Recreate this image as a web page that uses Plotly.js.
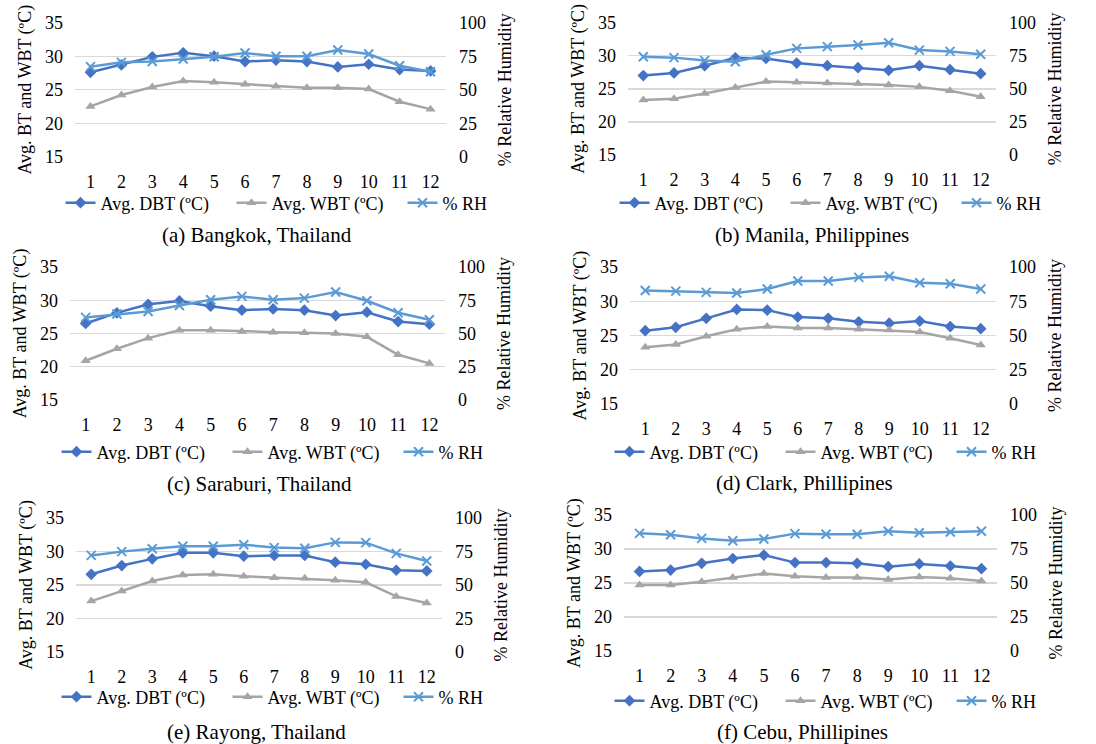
<!DOCTYPE html>
<html>
<head>
<meta charset="utf-8">
<script src="https://cdn.plot.ly/plotly-3.0.1.min.js"></script>
<style>html,body{margin:0;padding:0;background:#fff;}#chart{width:1096px;height:744px;}</style>
</head>
<body>
<div id="chart"></div>
<script>
// ---- Data ----
const months = [1, 2, 3, 4, 5, 6, 7, 8, 9, 10, 11, 12];
const seriesNames = ["Avg. DBT (ºC)", "Avg. WBT (ºC)", "% RH"];
const captions = ["(a) Bangkok, Thailand", "(b) Manila, Philippines", "(c) Saraburi, Thailand",
                  "(d) Clark, Phillipines", "(e) Rayong, Thailand", "(f) Cebu, Phillipines"];

const bangkokDBT = [27.6, 28.7, 29.9, 30.5, 30.0, 29.2, 29.4, 29.2, 28.4, 28.8, 28.0, 27.8];
const bangkokWBT = [22.5, 24.2, 25.4, 26.3, 26.1, 25.8, 25.5, 25.3, 25.3, 25.1, 23.2, 22.1];
const bangkokRH  = [67.2, 70.4, 71.1, 72.9, 74.6, 77.4, 74.9, 74.9, 79.6, 76.6, 67.9, 63.4];

const manilaDBT = [27.0, 27.4, 28.5, 29.7, 29.6, 28.9, 28.5, 28.2, 27.8, 28.5, 27.9, 27.3];
const manilaWBT = [23.3, 23.5, 24.3, 25.2, 26.1, 26.0, 25.9, 25.8, 25.6, 25.3, 24.7, 23.8];
const manilaRH  = [74.3, 73.6, 71.5, 70.5, 75.8, 80.6, 81.9, 83.1, 84.9, 79.3, 78.3, 76.1];

const saraburiDBT = [26.5, 28.1, 29.4, 29.9, 29.1, 28.5, 28.7, 28.5, 27.7, 28.2, 26.8, 26.4];
const saraburiWBT = [20.9, 22.7, 24.3, 25.5, 25.5, 25.3, 25.2, 25.1, 25.0, 24.5, 21.8, 20.5];
const saraburiRH  = [62.1, 64.6, 66.6, 71.1, 75.4, 77.9, 75.4, 76.6, 81.2, 74.6, 65.6, 60.3];

const clarkDBT = [25.7, 26.2, 27.5, 28.8, 28.7, 27.7, 27.5, 27.0, 26.8, 27.1, 26.3, 26.0];
const clarkWBT = [23.3, 23.7, 24.9, 25.9, 26.3, 26.1, 26.1, 25.9, 25.8, 25.5, 24.6, 23.6];
const clarkRH  = [82.9, 82.4, 81.5, 81.0, 83.9, 89.8, 89.8, 92.4, 93.2, 88.5, 87.8, 83.9];

const rayongDBT = [26.6, 27.9, 28.9, 29.8, 29.8, 29.3, 29.4, 29.4, 28.4, 28.1, 27.2, 27.1];
const rayongWBT = [22.6, 24.1, 25.6, 26.5, 26.6, 26.3, 26.1, 26.0, 25.7, 25.4, 23.3, 22.3];
const rayongRH  = [72.1, 74.9, 77.1, 78.9, 78.9, 80.1, 77.9, 77.4, 81.8, 81.6, 73.6, 67.9];

const cebuDBT = [26.7, 26.9, 27.9, 28.6, 29.1, 28.0, 28.0, 27.9, 27.4, 27.8, 27.5, 27.1];
const cebuWBT = [24.7, 24.7, 25.2, 25.8, 26.4, 26.0, 25.8, 25.8, 25.5, 25.9, 25.7, 25.3];
const cebuRH  = [86.5, 85.5, 82.8, 81.1, 82.4, 86.3, 85.8, 85.8, 88.0, 87.0, 87.5, 88.0];

const tempTicks = [15, 20, 25, 30, 35];
const rhTicks = [0, 25, 50, 75, 100];

// ---- Layout geometry (pixels) ----
const W = 1096, H = 744;
const panels = [
  {dbt: bangkokDBT,  wbt: bangkokWBT,  rh: bangkokRH,  x0: 75,  x1: 446, y0: 22.7, y1: 156.7, legX: 317, legY: 203, capX: 257, capY: 235},
  {dbt: manilaDBT,   wbt: manilaWBT,   rh: manilaRH,   x0: 628, x1: 996, y0: 22.7, y1: 155,   legX: 871, legY: 203, capX: 812, capY: 235},
  {dbt: saraburiDBT, wbt: saraburiWBT, rh: saraburiRH, x0: 70,  x1: 445, y0: 267,  y1: 400,   legX: 313, legY: 452, capX: 259, capY: 484},
  {dbt: clarkDBT,    wbt: clarkWBT,    rh: clarkRH,    x0: 630, x1: 996, y0: 267,  y1: 404,   legX: 866, legY: 452, capX: 804, capY: 483},
  {dbt: rayongDBT,   wbt: rayongWBT,   rh: rayongRH,   x0: 76,  x1: 442, y0: 518,  y1: 652,   legX: 313, legY: 697, capX: 256, capY: 732},
  {dbt: cebuDBT,     wbt: cebuWBT,     rh: cebuRH,     x0: 624, x1: 997, y0: 515,  y1: 651,   legX: 866, legY: 701, capX: 802, capY: 732}
];

const FONT = "Liberation Serif";
const FS = 18;
const colors = {dbt: "#4472C4", wbt: "#A5A5A5", rh: "#5B9BD5"};
const px2x = v => v / W;
const px2y = v => 1 - v / H;

const data = [];
const layout = {
  width: W, height: H,
  margin: {l: 0, r: 0, t: 0, b: 0, autoexpand: false},
  paper_bgcolor: "#ffffff", plot_bgcolor: "#ffffff",
  font: {family: FONT, size: FS, color: "#000000"},
  showlegend: true,
  annotations: []
};

panels.forEach((p, i) => {
  const n = i + 1;
  const xName = n === 1 ? "x" : "x" + n;
  const yL = 2 * n - 1, yR = 2 * n;
  const yLName = yL === 1 ? "y" : "y" + yL;
  const yRName = "y" + yR;
  const legName = n === 1 ? "legend" : "legend" + n;

  data.push({
    x: months, y: p.dbt, xaxis: xName, yaxis: yLName, legend: legName,
    name: seriesNames[0], type: "scatter", mode: "lines+markers",
    line: {color: colors.dbt, width: 2.5},
    marker: {symbol: "diamond", size: 9, color: colors.dbt}
  });
  data.push({
    x: months, y: p.wbt, xaxis: xName, yaxis: yLName, legend: legName,
    name: seriesNames[1], type: "scatter", mode: "lines+markers",
    line: {color: colors.wbt, width: 2.5},
    marker: {symbol: "triangle-up", size: 9, color: colors.wbt}
  });
  data.push({
    x: months, y: p.rh, xaxis: xName, yaxis: yRName, legend: legName,
    name: seriesNames[2], type: "scatter", mode: "lines+markers",
    line: {color: colors.rh, width: 2.5},
    marker: {symbol: "x-thin", size: 9, color: colors.rh, line: {color: colors.rh, width: 2}}
  });

  const xdom = [px2x(p.x0), px2x(p.x1)];
  const ydom = [px2y(p.y1), px2y(p.y0)];

  layout[n === 1 ? "xaxis" : "xaxis" + n] = {
    domain: xdom, anchor: yLName, range: [0.5, 12.5],
    tickmode: "array", tickvals: months, ticktext: months.map(String),
    showgrid: false, zeroline: false, showline: false, ticks: "",
    ticklabelstandoff: 12, automargin: false,
    tickfont: {family: FONT, size: FS, color: "#000"}, fixedrange: true
  };
  layout[yL === 1 ? "yaxis" : "yaxis" + yL] = {
    domain: ydom, anchor: xName, range: [15, 35],
    tickmode: "array", tickvals: tempTicks,
    showgrid: true, gridcolor: "#D9D9D9", gridwidth: 1.3,
    zeroline: false, showline: false, ticks: "",
    ticklabelstandoff: 11, automargin: false,
    tickfont: {family: FONT, size: FS, color: "#000"},
    title: {text: "Avg. BT and WBT (ºC)", font: {family: FONT, size: FS, color: "#000"}, standoff: 8},
    fixedrange: true
  };
  layout["yaxis" + yR] = {
    domain: ydom, anchor: xName, overlaying: yLName, side: "right", range: [0, 100],
    tickmode: "array", tickvals: rhTicks,
    showgrid: false, zeroline: false, showline: false, ticks: "",
    ticklabelstandoff: 12, automargin: false,
    tickfont: {family: FONT, size: FS, color: "#000"},
    title: {text: "% Relative Humidity", font: {family: FONT, size: FS, color: "#000"}, standoff: 13},
    fixedrange: true
  };
  layout[legName] = {
    orientation: "h", x: px2x(p.legX), xanchor: "center",
    y: px2y(p.legY), yanchor: "middle",
    font: {family: FONT, size: FS, color: "#000"},
    bgcolor: "rgba(0,0,0,0)", traceorder: "normal",
    entrywidth: 126, entrywidthmode: "pixels"
  };
  layout.annotations.push({
    text: captions[i], xref: "paper", yref: "paper",
    x: px2x(p.capX), y: px2y(p.capY), xanchor: "center", yanchor: "middle",
    showarrow: false, font: {family: FONT, size: 21, color: "#000"}
  });
});

Plotly.newPlot("chart", data, layout, {displayModeBar: false, staticPlot: true});
</script>
</body>
</html>
